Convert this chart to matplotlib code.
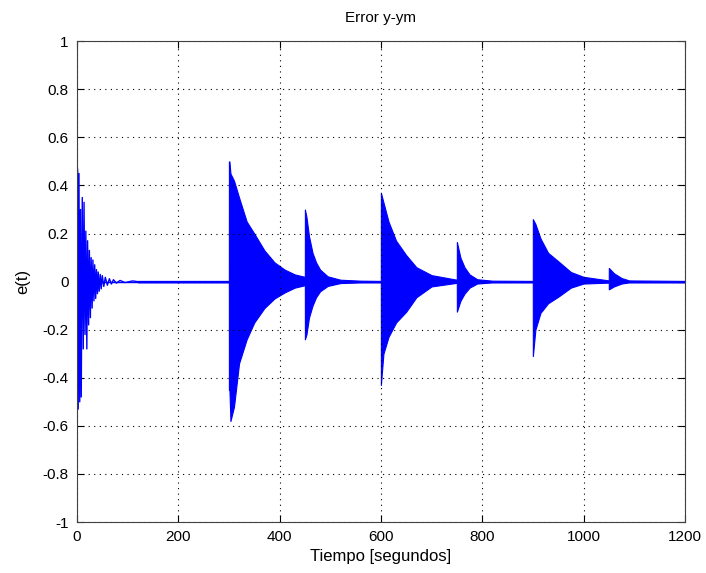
import matplotlib.pyplot as plt
import numpy as np

plt.rcParams['font.family'] = ['Liberation Sans', 'DejaVu Sans']

# first burst: individual oscillation extrema (time, e)
first_t = [0, 1, 2.5, 4, 5.5, 7, 8.5, 10.5, 12.5, 14, 16, 17.5, 19.5, 21, 23, 24.5,
           26.5, 28, 30, 31.5, 33.5, 35, 37, 38.5, 40.5, 42, 44, 46, 48, 50, 53, 56,
           60, 64, 68, 72, 78, 85, 95, 110, 120]
first_e = [0, 0.47, -0.53, 0.45, -0.50, 0.30, -0.48, 0.35, -0.28, 0.33, -0.22, 0.21,
           -0.28, 0.17, -0.18, 0.13, -0.15, 0.10, -0.11, 0.09, -0.08, 0.07, -0.07, 0.05,
           -0.05, 0.04, -0.04, 0.03, -0.03, 0.025, -0.02, 0.018, -0.015, 0.012, -0.01,
           0.008, -0.006, 0.005, -0.004, 0.003, 0.0]

# later bursts: upper / lower envelope of the fast oscillation
env_t = [120, 299.9, 300, 301, 303, 310, 320, 335, 350, 370, 390, 410, 430, 449.9,
         450, 453, 458, 465, 472, 480, 495, 520, 560, 599.9,
         600, 605, 615, 630, 650, 670, 700, 749.9,
         750, 757, 765, 775, 790, 820, 899.9,
         900, 905, 915, 930, 950, 975, 1000, 1049.9,
         1050, 1060, 1075, 1090, 1200]
env_hi = [0.003, 0.003, 0.50, 0.50, 0.45, 0.42, 0.35, 0.25, 0.20, 0.13, 0.08, 0.05, 0.03, 0.02,
          0.30, 0.27, 0.19, 0.12, 0.08, 0.05, 0.022, 0.008, 0.004, 0.003,
          0.37, 0.33, 0.25, 0.17, 0.11, 0.06, 0.027, 0.008,
          0.165, 0.10, 0.06, 0.03, 0.01, 0.004, 0.003,
          0.26, 0.24, 0.18, 0.12, 0.085, 0.04, 0.02, 0.005,
          0.057, 0.035, 0.015, 0.005, 0.003]
env_lo = [-0.003, -0.003, -0.45, -0.45, -0.58, -0.52, -0.34, -0.24, -0.17, -0.11, -0.07, -0.045, -0.025, -0.015,
          -0.24, -0.22, -0.15, -0.10, -0.065, -0.04, -0.018, -0.006, -0.003, -0.003,
          -0.43, -0.30, -0.23, -0.17, -0.125, -0.065, -0.02, -0.005,
          -0.125, -0.08, -0.05, -0.025, -0.008, -0.003, -0.003,
          -0.31, -0.20, -0.13, -0.09, -0.063, -0.025, -0.008, -0.004,
          -0.032, -0.02, -0.008, -0.003, -0.003]

fig = plt.figure(figsize=(7.06, 5.73), dpi=100)
ax = fig.add_axes([0.109, 0.089, 0.861, 0.839])

ax.plot(first_t, first_e, color='blue', linewidth=1.0)
ax.fill_between(env_t, env_lo, env_hi, facecolor='blue', edgecolor='blue', linewidth=0.8)
ax.plot([0, 1200], [0, 0], color='blue', linewidth=1.0)

ax.set_xlim(0, 1200)
ax.set_ylim(-1, 1)
ax.set_xticks(np.arange(0, 1201, 200))
ax.set_yticks(np.arange(-1, 1.01, 0.2))
ax.set_yticklabels(['-1', '-0.8', '-0.6', '-0.4', '-0.2', '0', '0.2', '0.4', '0.6', '0.8', '1'])
ax.grid(True, linestyle=(0, (1, 4)), color='black', linewidth=0.8)
ax.tick_params(direction='in', top=True, right=True, labelsize=11, length=5, pad=6)
for s in ax.spines.values():
    s.set_color('#404040')
ax.set_title('Error y-ym', fontsize=11, pad=14)
ax.set_xlabel('Tiempo [segundos]', fontsize=12, labelpad=3)
ax.set_ylabel('e(t)', fontsize=12, labelpad=9)

plt.savefig('out.png', dpi=100)
